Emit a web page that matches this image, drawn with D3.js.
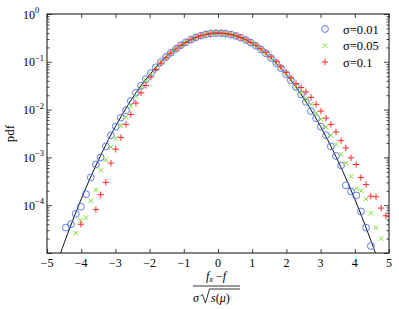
<!DOCTYPE html>
<html>
<head>
<meta charset="utf-8">
<script src="https://cdn.jsdelivr.net/npm/d3@7"></script>
<style>
  body { margin: 0; background: #fff; }
  text { font-family: "Liberation Serif", "DejaVu Serif", serif; fill: #000; }
</style>
</head>
<body>
<script>
// bin centres shared by the three histograms
var binX = [-4.45, -4.30, -4.16, -4.01, -3.86, -3.72, -3.57, -3.43, -3.28, -3.13, -2.99, -2.84, -2.69,
    -2.55, -2.40, -2.25, -2.11, -1.96, -1.82, -1.67, -1.52, -1.38, -1.23, -1.08, -0.94, -0.79, -0.65,
    -0.50, -0.35, -0.21, -0.06, 0.09, 0.23, 0.38, 0.53, 0.67, 0.82, 0.96, 1.11, 1.26, 1.40, 1.55, 1.70,
    1.84, 1.99, 2.13, 2.28, 2.43, 2.57, 2.72, 2.87, 3.01, 3.16, 3.30, 3.45, 3.60, 3.74, 3.89, 4.04,
    4.18, 4.33, 4.47, 4.62, 4.77, 4.91];

// sigma = 0.01 (blue circles)
var pdf001 = [3.4e-5, 4.0e-5, 6.6e-5, 9.3e-5, 1.7e-4, 3.8e-4, 7.1e-4, 1.0e-3, 1.7e-3, 2.9e-3, 4.4e-3, 6.8e-3, 9.7e-3,
    0.0152, 0.0226, 0.0316, 0.0433, 0.0582, 0.0765, 0.0985, 0.126, 0.154, 0.187, 0.223, 0.256, 0.292, 0.323,
    0.352, 0.375, 0.390, 0.398, 0.397, 0.388, 0.371, 0.347, 0.319, 0.285, 0.252, 0.216, 0.180, 0.150, 0.120, 0.094,
    0.0734, 0.0551, 0.0413, 0.0297, 0.0208, 0.0145, 9.3e-3, 6.6e-3, 4.4e-3, 2.9e-3, 1.7e-3, 1.07e-3, 6.8e-4, 2.6e-4,
    1.95e-4, 1.6e-4, 7.4e-5, 3.4e-5, 1.4e-5, null, null, null];

// sigma = 0.05 (green crosses)
var pdf005 = [null, null, 2.6e-5, 4.8e-5, 5.5e-5, 1.23e-4, 2.1e-4, 5.4e-4, 8.9e-4, 1.66e-3, 2.5e-3, 4.6e-3, 7.1e-3,
    0.0118, 0.0190, 0.0285, 0.0400, 0.0550, 0.0735, 0.096, 0.123, 0.152, 0.186, 0.222, 0.256, 0.292, 0.324,
    0.352, 0.376, 0.391, 0.398, 0.397, 0.389, 0.372, 0.348, 0.320, 0.286, 0.253, 0.217, 0.182, 0.152, 0.122, 0.096,
    0.0752, 0.0570, 0.0430, 0.0312, 0.0225, 0.0165, 0.0129, 8.5e-3, 6.3e-3, 4.3e-3, 2.9e-3, 1.86e-3, 1.15e-3, 7.6e-4,
    4.0e-4, 2.24e-4, 2.0e-4, 1.35e-4, 6.8e-5, 3.4e-5, 2.0e-5, null];

// sigma = 0.1 (red plus)
var pdf01 = [null, null, null, 4.0e-5, null, null, 8.1e-5, 1.66e-4, 3.0e-4, 7.6e-4, 1.48e-3, 2.6e-3, 4.9e-3,
    7.9e-3, 0.0137, 0.0224, 0.0320, 0.0480, 0.0690, 0.094, 0.122, 0.152, 0.185, 0.220, 0.254, 0.290, 0.321,
    0.350, 0.373, 0.389, 0.397, 0.397, 0.389, 0.373, 0.350, 0.322, 0.289, 0.256, 0.221, 0.186, 0.156, 0.126, 0.100,
    0.078, 0.060, 0.046, 0.035, 0.029, 0.0235, 0.0180, 0.0129, 9.3e-3, 6.6e-3, 4.9e-3, 3.4e-3, 2.24e-3, 1.58e-3,
    9.8e-4, 7.1e-4, 3.8e-4, 2.7e-4, 1.55e-4, 1.5e-4, 8.7e-5, 6.0e-5];

// reference normal curve, read at a few points
var curveX = [-4.7, -4.6, -4.4, -4.2, -4.0, -3.8, -3.6, -3.4, -3.2, -3.0, -2.8, -2.6, -2.4, -2.2, -2.0, -1.8, -1.6,
    -1.4, -1.2, -1.0, -0.8, -0.6, -0.4, -0.2, 0, 0.2, 0.4, 0.6, 0.8, 1.0, 1.2, 1.4, 1.6, 1.8, 2.0, 2.2, 2.4,
    2.6, 2.8, 3.0, 3.2, 3.4, 3.6, 3.8, 4.0, 4.2, 4.4, 4.6, 4.7];
var curveY = [5.9e-6, 1.01e-5, 2.49e-5, 5.89e-5, 1.34e-4, 2.92e-4, 6.12e-4, 1.23e-3, 2.38e-3, 4.43e-3, 7.92e-3, 0.01358,
    0.02239, 0.03547, 0.05399, 0.07895, 0.11092, 0.14973, 0.19419, 0.24197, 0.28969, 0.33322, 0.36827, 0.39104,
    0.39894, 0.39104, 0.36827, 0.33322, 0.28969, 0.24197, 0.19419, 0.14973, 0.11092, 0.07895, 0.05399, 0.03547,
    0.02239, 0.01358, 7.92e-3, 4.43e-3, 2.38e-3, 1.23e-3, 6.12e-4, 2.92e-4, 1.34e-4, 5.89e-5, 2.49e-5, 1.01e-5, 5.9e-6];

var xTicks = [-5, -4, -3, -2, -1, 0, 1, 2, 3, 4, 5];
var yDecades = [0, -1, -2, -3, -4, -5];
var legendLabels = ["σ=0.01", "σ=0.05", "σ=0.1"];

var W = 399, H = 309;
var margin = {left: 47, right: 389, top: 14, bottom: 253};

var svg = d3.select("body").append("svg")
    .attr("width", W)
    .attr("height", H);

var xScale = d3.scaleLinear().domain([-5, 5]).range([margin.left, margin.right]);
var yScale = d3.scaleLog().domain([1e-5, 1]).range([margin.bottom, margin.top]);

// clip for the curve
svg.append("clipPath").attr("id", "plot")
    .append("rect")
    .attr("x", margin.left).attr("y", margin.top)
    .attr("width", margin.right - margin.left).attr("height", margin.bottom - margin.top);

// minor / major log ticks on both sides
var minorVals = [];
for (var e = -5; e < 0; e++) {
    for (var m = 2; m <= 9; m++) minorVals.push(m * Math.pow(10, e));
}
var yMajor = yDecades.map(function(d) { return Math.pow(10, d); });

var yLeft = d3.axisRight(yScale).tickValues(yMajor).tickSize(5).tickFormat("");
var yLeftMinor = d3.axisRight(yScale).tickValues(minorVals).tickSize(2.5).tickFormat("");
var yRight = d3.axisLeft(yScale).tickValues(yMajor).tickSize(5).tickFormat("");
var yRightMinor = d3.axisLeft(yScale).tickValues(minorVals).tickSize(2.5).tickFormat("");
var xBottom = d3.axisTop(xScale).tickValues(xTicks).tickSize(4).tickFormat("");
var xTop = d3.axisBottom(xScale).tickValues(xTicks).tickSize(4).tickFormat("");

[[yLeft, "translate(" + margin.left + ",0)"], [yLeftMinor, "translate(" + margin.left + ",0)"],
 [yRight, "translate(" + margin.right + ",0)"], [yRightMinor, "translate(" + margin.right + ",0)"],
 [xBottom, "translate(0," + margin.bottom + ")"], [xTop, "translate(0," + margin.top + ")"]].forEach(function(a) {
    var g = svg.append("g").attr("transform", a[1]).call(a[0]);
    g.select(".domain").remove();
    g.selectAll("line").attr("stroke", "#444").attr("stroke-width", 1);
});

// frame
svg.append("rect")
    .attr("x", margin.left).attr("y", margin.top)
    .attr("width", margin.right - margin.left).attr("height", margin.bottom - margin.top)
    .attr("fill", "none")
    .attr("stroke", "#222")
    .attr("stroke-width", 1.1);

// x tick labels
svg.selectAll(".xlab")
    .data(xTicks)
    .enter().append("text")
    .attr("class", "xlab")
    .attr("x", function(d) { return xScale(d); })
    .attr("y", margin.bottom + 14)
    .attr("text-anchor", "middle")
    .attr("font-size", "12px")
    .text(function(d) { return d < 0 ? "\u2212" + (-d) : d; });

// y tick labels 10^n
var yl = svg.selectAll(".ylab")
    .data(yDecades.slice(0, 5))
    .enter().append("text")
    .attr("class", "ylab")
    .attr("x", 23)
    .attr("y", function(d) { return yScale(Math.pow(10, d)) + 4.5; })
    .attr("font-size", "12px");
yl.append("tspan").text("10");
yl.append("tspan")
    .attr("font-size", "8.5px")
    .attr("dy", -5.5)
    .text(function(d) { return d < 0 ? "\u2212" + (-d) : d; });

// y axis title
svg.append("text")
    .attr("transform", "translate(14," + ((margin.top + margin.bottom) / 2) + ") rotate(-90)")
    .attr("text-anchor", "middle")
    .attr("font-size", "13px")
    .text("pdf");

// x axis title: fraction
var fx = 216;
var num = svg.append("text")
    .attr("x", fx)
    .attr("y", 280)
    .attr("text-anchor", "middle")
    .attr("font-size", "12px")
    .attr("font-style", "italic");
num.append("tspan").text("f");
num.append("tspan").attr("font-size", "8.5px").attr("dy", 2).text("x");
num.append("tspan").attr("dy", -2).attr("font-style", "normal").text(" \u2212");
num.append("tspan").text("f");

svg.append("line")
    .attr("x1", 193).attr("x2", 240)
    .attr("y1", 286).attr("y2", 286)
    .attr("stroke", "#000").attr("stroke-width", 0.8);

svg.append("text")
    .attr("x", 193).attr("y", 302)
    .attr("font-size", "12px")
    .attr("font-style", "italic")
    .text("σ");
svg.append("path")
    .attr("d", "M200.5,296 L202.5,294.5 L205.5,303 L209.5,289 L240,289")
    .attr("fill", "none")
    .attr("stroke", "#000")
    .attr("stroke-width", 0.8);
var den = svg.append("text")
    .attr("x", 211).attr("y", 302)
    .attr("font-size", "12px")
    .attr("font-style", "italic");
den.append("tspan").text("s");
den.append("tspan").attr("font-style", "normal").text("(");
den.append("tspan").text("μ");
den.append("tspan").attr("font-style", "normal").text(")");

// normal curve
var line = d3.line()
    .x(function(d, i) { return xScale(curveX[i]); })
    .y(function(d) { return yScale(d); })
    .curve(d3.curveCatmullRom);

svg.append("path")
    .attr("clip-path", "url(#plot)")
    .attr("d", line(curveY))
    .attr("fill", "none")
    .attr("stroke", "#111")
    .attr("stroke-width", 1);

function pts(vals) {
    var out = [];
    vals.forEach(function(v, i) { if (v !== null) out.push({x: binX[i], y: v}); });
    return out;
}

var blue = "#4a6cf0", green = "#7ee02a", red = "#ff2a2a";

// sigma = 0.01 circles
svg.selectAll(".c1")
    .data(pts(pdf001))
    .enter().append("circle")
    .attr("class", "c1")
    .attr("cx", function(d) { return xScale(d.x); })
    .attr("cy", function(d) { return yScale(d.y); })
    .attr("r", 3.4)
    .attr("fill", "none")
    .attr("stroke", blue)
    .attr("stroke-width", 0.9);

// sigma = 0.05 crosses
var crossPath = "M-2.3,-2.3L2.3,2.3M-2.3,2.3L2.3,-2.3";
svg.selectAll(".c2")
    .data(pts(pdf005))
    .enter().append("path")
    .attr("class", "c2")
    .attr("transform", function(d) { return "translate(" + xScale(d.x) + "," + yScale(d.y) + ")"; })
    .attr("d", crossPath)
    .attr("fill", "none")
    .attr("stroke", green)
    .attr("stroke-width", 1);

// sigma = 0.1 plus signs
var plusPath = "M-3.2,0L3.2,0M0,-3.2L0,3.2";
svg.selectAll(".c3")
    .data(pts(pdf01))
    .enter().append("path")
    .attr("class", "c3")
    .attr("transform", function(d) { return "translate(" + xScale(d.x) + "," + yScale(d.y) + ")"; })
    .attr("d", plusPath)
    .attr("fill", "none")
    .attr("stroke", red)
    .attr("stroke-width", 1);

// legend
var legY = [29, 45.5, 62];
svg.append("circle")
    .attr("cx", 325).attr("cy", legY[0]).attr("r", 3.4)
    .attr("fill", "none").attr("stroke", blue).attr("stroke-width", 0.9);
svg.append("path")
    .attr("transform", "translate(325," + legY[1] + ")")
    .attr("d", crossPath).attr("fill", "none").attr("stroke", green).attr("stroke-width", 1);
svg.append("path")
    .attr("transform", "translate(325," + legY[2] + ")")
    .attr("d", plusPath).attr("fill", "none").attr("stroke", red).attr("stroke-width", 1);

svg.selectAll(".legtext")
    .data(legendLabels)
    .enter().append("text")
    .attr("class", "legtext")
    .attr("x", 343)
    .attr("y", function(d, i) { return legY[i] + 4.5; })
    .attr("font-size", "12.5px")
    .text(function(d) { return d; });
</script>
</body>
</html>
